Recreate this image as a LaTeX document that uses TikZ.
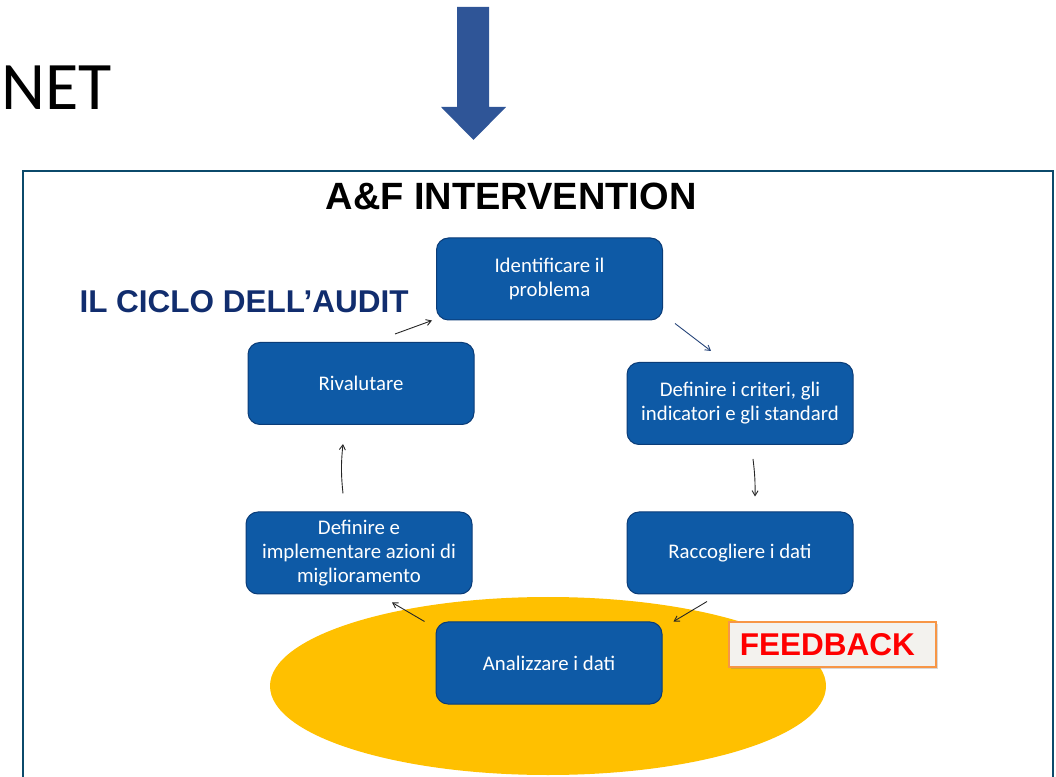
\documentclass[tikz,border=0pt]{standalone}
\usepackage{fontspec}
\setmainfont{Carlito}
\newfontfamily\arialfont{Liberation Sans}
\usepackage{tikz}
\usetikzlibrary{arrows.meta}
\usetikzlibrary{shadows}

\definecolor{boxblue}{RGB}{14,90,166}
\definecolor{boxline}{RGB}{10,60,120}
\definecolor{arrowblue}{RGB}{47,85,151}
\definecolor{framecol}{RGB}{11,74,107}
\definecolor{cicloblue}{RGB}{17,45,110}
\definecolor{ovalyellow}{RGB}{255,192,0}
\definecolor{fbfill}{RGB}{243,242,238}
\definecolor{fborange}{RGB}{247,150,70}

\begin{document}
\begin{tikzpicture}[
    x=1pt, y=1pt,
    fase/.style={draw=boxline, line width=1pt, fill=boxblue, rounded corners=12pt,
        minimum width=226pt, minimum height=82pt, align=center, text=white,
        font=\fontsize{20.8}{24}\selectfont},
    cyc/.style={draw=black!85, line width=0.9pt, -{Straight Barb[length=5pt,width=6pt]}}
]
    \useasboundingbox (0,0) rectangle (1056,776);

    % Header: cut title and arrow
    \node[anchor=base west, inner sep=0pt, font=\fontsize{68}{76}\selectfont] (net) at (1,666) {NET};
    \fill[arrowblue] (457,769) -- (489,769) -- (489,669) -- (506,669) -- (473.5,636)
        -- (441,669) -- (457,669) -- cycle;

    % Frame
    \draw[framecol, line width=2pt] (23,-5) -- (23,605) -- (1053,605) -- (1053,-5);

    % Titles
    \node[font=\arialfont\bfseries\fontsize{38}{42}\selectfont] (title) at (511,580) {A\&F INTERVENTION};
    \node[font=\arialfont\bfseries\fontsize{31.5}{36}\selectfont, text=cicloblue] (ciclo) at (244,474) {IL CICLO DELL’AUDIT};

    % Feedback oval
    \fill[ovalyellow] (548,90) ellipse [x radius=278, y radius=89];

    % Cycle steps
    \node[fase] (ident) at (549.5,497) {Identificare il\\problema};
    \node[fase] (crit) at (740,372.5) {Definire i criteri, gli\\indicatori e gli standard};
    \node[fase] (racc) at (740,223) {Raccogliere i dati};
    \node[fase] (anal) at (549,113) {Analizzare i dati};
    \node[fase] (impl) at (359,223) {Definire e\\implementare azioni di\\miglioramento};
    \node[fase] (rival) at (361,392.5) {Rivalutare};

    % Feedback label
    \node[draw=fborange, line width=2pt, fill=fbfill, drop shadow={shadow xshift=2pt, shadow yshift=-2pt, opacity=0.3},
        minimum width=207pt, minimum height=45pt, text=red,
        font=\arialfont\bfseries\fontsize{31.5}{34}\selectfont] (fb) at (832.5,131.5) {FEEDBACK\,\,};

    % Arrows round the cycle
    \draw[cyc] ([shift={(34,8)}]rival.north) -- ([shift={(-4,0)}]ident.south west);
    \draw[cyc, draw=arrowblue!80!black] ([shift={(12,-3)}]ident.south east) -- ([shift={(-29,11)}]crit.north);
    \draw[cyc] ([shift={(13,-14)}]crit.south) to[bend left=4] ([shift={(15,15)}]racc.north);
    \draw[cyc] ([shift={(-33,-7)}]racc.south) -- ([shift={(11,0)}]anal.north east);
    \draw[cyc] ([shift={(-11,0)}]anal.north west) -- ([shift={(33,-8)}]impl.south);
    \draw[cyc] ([shift={(-16,18)}]impl.north) to[bend left=6] ([shift={(-18,-19)}]rival.south);

\end{tikzpicture}
\end{document}
